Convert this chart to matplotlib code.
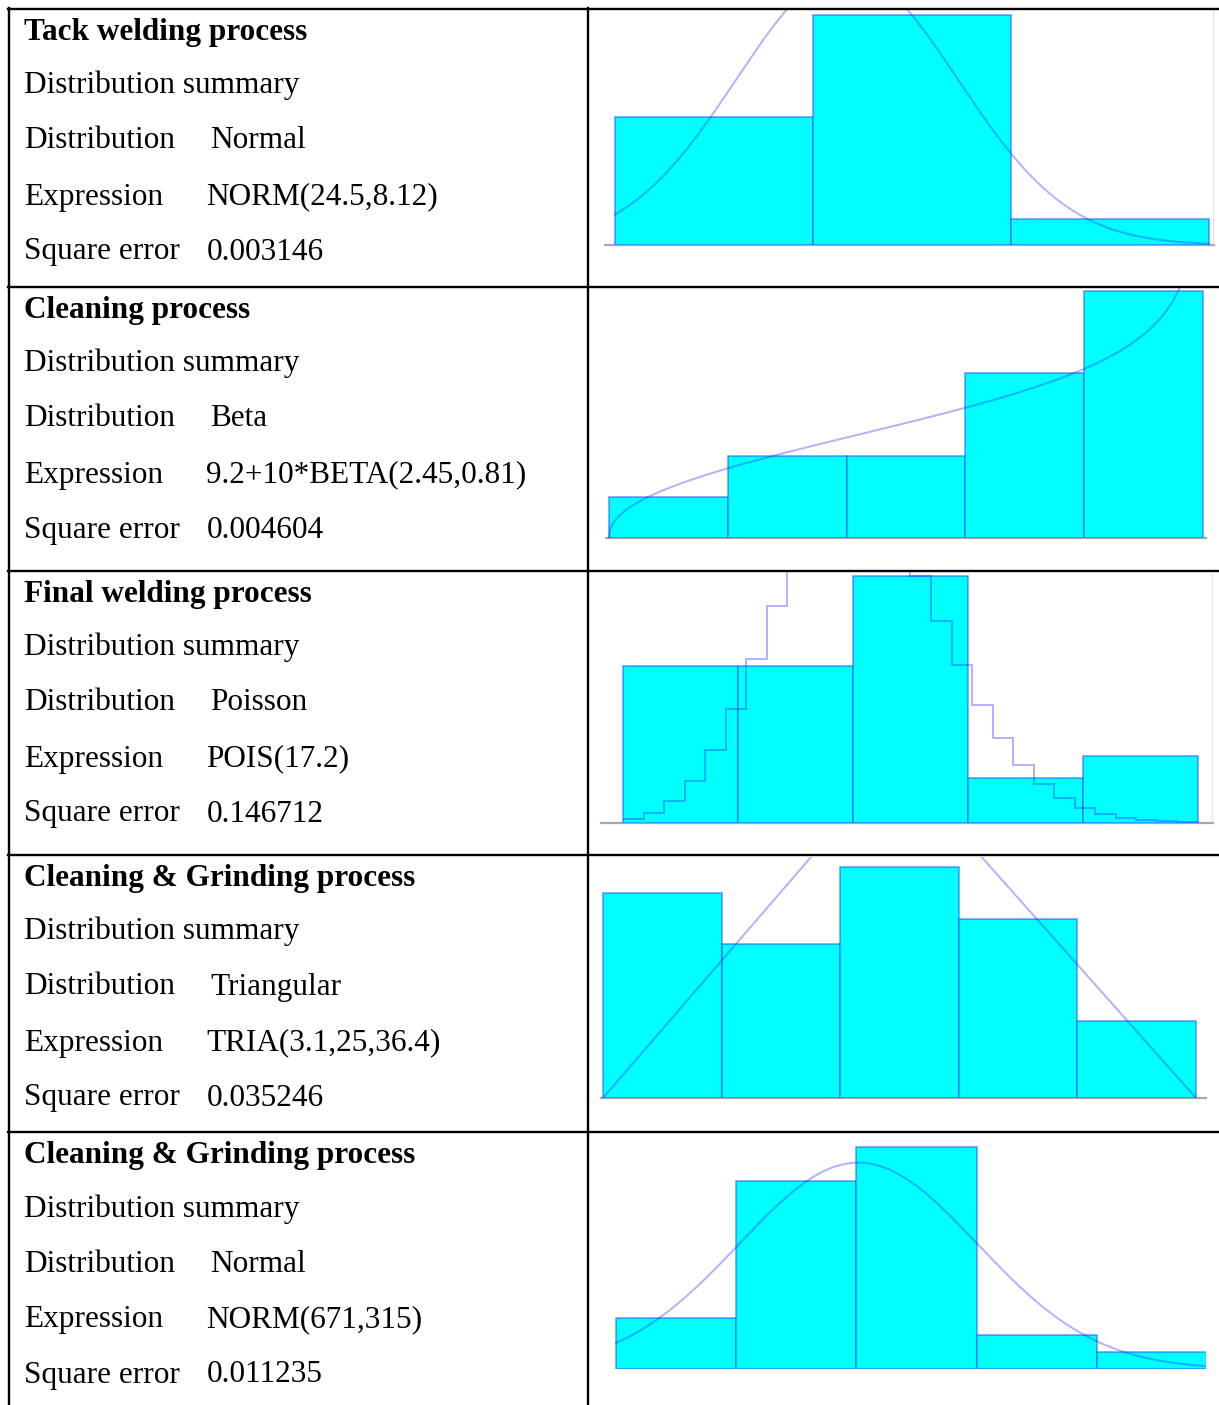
"""Distribution fit summary table: text on the left, histogram + fitted curve on the right"""

import math
import numpy as np
import matplotlib
matplotlib.use("Agg")
import matplotlib.pyplot as plt
from matplotlib.lines import Line2D

W, H = 1219, 1405

titles = ["Tack welding process", "Cleaning process", "Final welding process",
          "Cleaning & Grinding process", "Cleaning & Grinding process"]
dists = ["Normal", "Beta", "Poisson", "Triangular", "Normal"]
exprs = ["NORM(24.5,8.12)", "9.2+10*BETA(2.45,0.81)", "POIS(17.2)",
         "TRIA(3.1,25,36.4)", "NORM(671,315)"]
errors = ["0.003146", "0.004604", "0.146712", "0.035246", "0.011235"]

# histogram bin edges and relative frequencies for each process
tack_edges = [7.5, 22, 36.5, 51]
tack_freq = [0.333, 0.6, 0.067]
clean_edges = [9.2, 11.2, 13.2, 15.2, 17.2, 19.2]
clean_freq = [0.067, 0.133, 0.133, 0.267, 0.4]
final_edges = [5.5, 11.1, 16.7, 22.3, 27.9, 33.5]
final_freq = [0.233, 0.233, 0.367, 0.067, 0.1]
grind_edges = [3.1, 9.76, 16.42, 23.08, 29.74, 36.4]
grind_freq = [0.242, 0.182, 0.273, 0.212, 0.091]
grind2_edges = [30, 348, 666, 984, 1302, 1620]
grind2_freq = [0.1, 0.367, 0.433, 0.067, 0.033]

# fitted curve parameters
tack_mu, tack_sd = 24.5, 8.12
beta_a, beta_b = 1.45, 0.81
pois_mean = 17.2
pois_k = np.arange(6, 34)
pois_scale = 5.13  # plotted height of the pmf relative to the bars
tri_x = [3.1, 19.5, 36.4]
grind2_mu, grind2_sd = 671, 315

row_tops = [9, 287, 571, 855, 1132]
line_offsets = [31, 84.5, 139.5, 195.5, 250.5]

fig = plt.figure(figsize=(W / 100, H / 100), dpi=100)
fig.patch.set_facecolor("white")


def fx(x):
    return x / W


def fy(y):
    return 1 - y / H


def hline(y, x0=8, x1=W):
    fig.add_artist(Line2D([fx(x0), fx(x1)], [fy(y), fy(y)], color="black", lw=1.7))


def vline(x, y0=8, y1=H):
    fig.add_artist(Line2D([fx(x), fx(x)], [fy(y0), fy(y1)], color="black", lw=1.7))


# table rules
for y in row_tops:
    hline(y)
vline(8.5)
vline(588)

# left column text
font = "Liberation Serif"
fs = 22.5
for i in range(5):
    base = [row_tops[i] + o for o in line_offsets]
    fig.text(fx(24), fy(base[0]), titles[i], family=font, size=fs, weight="bold", va="baseline")
    fig.text(fx(24), fy(base[1]), "Distribution summary", family=font, size=fs, va="baseline")
    fig.text(fx(24), fy(base[2]), "Distribution", family=font, size=fs, va="baseline")
    fig.text(fx(210), fy(base[2]), dists[i], family=font, size=fs, va="baseline")
    fig.text(fx(24), fy(base[3]), "Expression", family=font, size=fs, va="baseline")
    fig.text(fx(206), fy(base[3]), exprs[i], family=font, size=fs, va="baseline")
    fig.text(fx(24), fy(base[4]), "Square error", family=font, size=fs, va="baseline")
    fig.text(fx(207), fy(base[4]), errors[i], family=font, size=fs, va="baseline")


def hist_axes(box, xlim, ylim, edges, freq, right_line=False, baseline=True):
    x0, y0, x1, y1 = box
    ax = fig.add_axes([fx(x0), fy(y1), (x1 - x0) / W, (y1 - y0) / H])
    ax.set_xlim(xlim)
    ax.set_ylim(ylim)
    for s in ax.spines.values():
        s.set_visible(False)
    ax.set_xticks([])
    ax.set_yticks([])
    ax.patch.set_alpha(0)
    ax.bar(edges[:-1], freq, width=np.diff(edges), align="edge", color="#00ffff",
           edgecolor=(0.15, 0.35, 1.0, 0.65), lw=1.1, zorder=2)
    if baseline:
        ax.axhline(0, color="#a8a8a8", lw=1.6, zorder=1, clip_on=False)
    if right_line:
        ax.axvline(xlim[1], color="#dcdcdc", lw=1.2, zorder=1)
    return ax


curve_kw = dict(color="#2020ff", alpha=0.35, lw=1.4, zorder=3)

# Tack welding - normal fit
ax = hist_axes((605, 9, 1214, 245), (6.77, 51.37), (0, 0.616), tack_edges, tack_freq, right_line=True)
bw = tack_edges[1] - tack_edges[0]
x = np.linspace(tack_edges[0], tack_edges[-1], 400)
ax.plot(x, bw * np.exp(-0.5 * ((x - tack_mu) / tack_sd) ** 2) / (tack_sd * math.sqrt(2 * math.pi)), **curve_kw)

# Cleaning - beta fit
ax = hist_axes((606, 288, 1206, 538), (9.15, 19.25), (0, 0.405), clean_edges, clean_freq)
t = np.linspace(0.0, 0.9995, 600)
bfun = math.gamma(beta_a) * math.gamma(beta_b) / math.gamma(beta_a + beta_b)
pdf_t = t ** (beta_a - 1) * (1 - t) ** (beta_b - 1) / bfun
ax.plot(9.2 + 10 * t, pdf_t * 0.2, **curve_kw)

# Final welding - poisson fit drawn as steps
ax = hist_axes((601, 572, 1213, 823), (4.43, 34.23), (0, 0.373), final_edges, final_freq, right_line=True)
pmf = np.array([math.exp(-pois_mean + k * math.log(pois_mean) - math.lgamma(k + 1)) for k in pois_k])
ax.stairs(pmf * pois_scale, np.append(pois_k - 0.5, pois_k[-1] + 0.5), baseline=None, **curve_kw)

# Cleaning & grinding - triangular fit
ax = hist_axes((601, 857, 1206, 1098), (2.99, 36.96), (0, 0.285), grind_edges, grind_freq)
bw = grind_edges[1] - grind_edges[0]
peak = 2 / (tri_x[2] - tri_x[0]) * bw
ax.plot(tri_x, [0, peak, 0], **curve_kw)

# Cleaning & grinding - normal fit
ax = hist_axes((600, 1141, 1206, 1369), (-12.4, 1591), (0, 0.445), grind2_edges, grind2_freq, baseline=False)
bw = grind2_edges[1] - grind2_edges[0]
x = np.linspace(grind2_edges[0], grind2_edges[-1], 400)
ax.plot(x, bw * np.exp(-0.5 * ((x - grind2_mu) / grind2_sd) ** 2) / (grind2_sd * math.sqrt(2 * math.pi)), **curve_kw)

plt.savefig("out.png", dpi=100)
